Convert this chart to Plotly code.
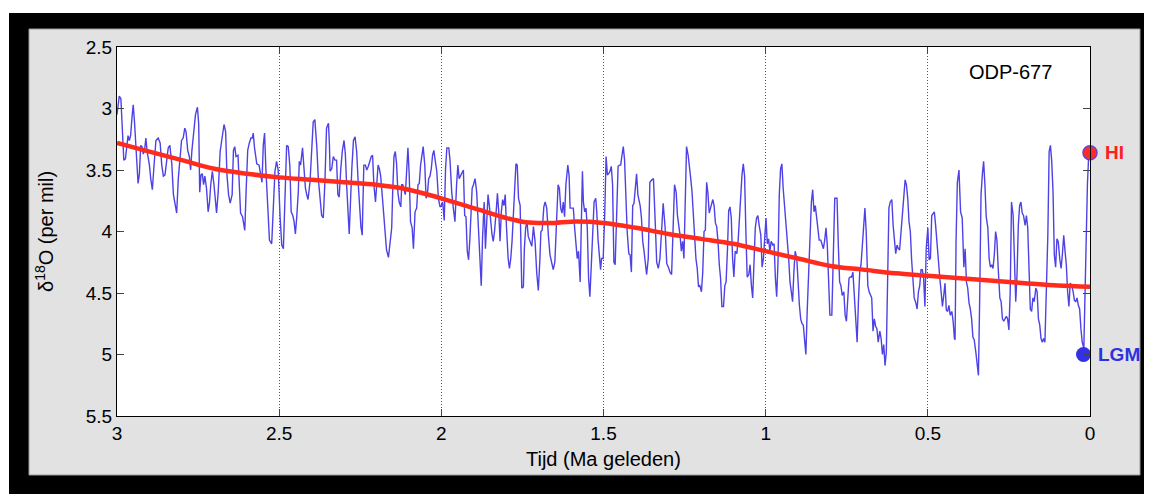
import plotly.graph_objects as go

# ---------------- data ----------------
# ODP-677 benthic d18O record, age in Ma (segments left -> right)
age_a = [3.000, 2.993, 2.988, 2.984, 2.979, 2.974, 2.970, 2.966, 2.962, 2.958, 2.954, 2.950, 2.946, 2.941, 2.935, 2.931, 2.927, 2.923, 2.919, 2.915,
         2.911, 2.907, 2.900, 2.896, 2.891, 2.886, 2.880, 2.873, 2.867, 2.862, 2.857, 2.852, 2.847, 2.842, 2.837, 2.831, 2.826, 2.820, 2.816, 2.811,
         2.806, 2.801, 2.796, 2.791, 2.787, 2.782, 2.777, 2.773, 2.769, 2.763, 2.758, 2.752, 2.748, 2.745, 2.741, 2.737, 2.733, 2.729, 2.724, 2.719,
         2.715, 2.711, 2.706, 2.701, 2.693, 2.688, 2.682, 2.676, 2.670, 2.665, 2.661, 2.656, 2.651, 2.645]
d18o_a = [3.05, 2.90, 2.92, 3.13, 3.42, 3.41, 3.32, 3.22, 3.26, 3.22, 3.08, 2.97, 3.11, 3.30, 3.61, 3.53, 3.30, 3.31, 3.37, 3.34,
          3.24, 3.35, 3.46, 3.57, 3.66, 3.47, 3.26, 3.24, 3.28, 3.46, 3.55, 3.54, 3.42, 3.32, 3.30, 3.45, 3.70, 3.81, 3.85, 3.57,
          3.39, 3.26, 3.24, 3.16, 3.19, 3.34, 3.39, 3.50, 3.34, 3.19, 3.05, 2.99, 3.13, 3.68, 3.54, 3.53, 3.62, 3.55, 3.65, 3.84,
          3.77, 3.62, 3.51, 3.62, 3.85, 3.68, 3.35, 3.24, 3.13, 3.19, 3.54, 3.70, 3.77, 3.70]

age_b = [2.641, 2.637, 2.633, 2.627, 2.623, 2.619, 2.613, 2.606, 2.602, 2.597, 2.592, 2.587, 2.583, 2.580, 2.576, 2.569, 2.562, 2.557, 2.553, 2.549,
         2.545, 2.541, 2.535, 2.530, 2.523, 2.518, 2.513, 2.508, 2.503, 2.497, 2.492, 2.487, 2.482, 2.477, 2.472, 2.467, 2.463, 2.458, 2.454, 2.450,
         2.446, 2.441, 2.438, 2.434, 2.428, 2.423, 2.419, 2.415, 2.411, 2.405, 2.400, 2.395, 2.390, 2.384, 2.379, 2.374, 2.369, 2.364, 2.359, 2.354,
         2.348, 2.345, 2.343, 2.338, 2.333, 2.328, 2.323, 2.319, 2.315, 2.310, 2.305, 2.300, 2.296, 2.292, 2.287, 2.284]
d18o_b = [3.34, 3.31, 3.39, 3.38, 3.62, 3.85, 3.88, 3.99, 3.68, 3.34, 3.28, 3.24, 3.24, 3.20, 3.32, 3.45, 3.46, 3.54, 3.60, 3.30,
          3.20, 3.49, 3.76, 4.07, 4.10, 3.79, 3.51, 3.43, 3.50, 3.89, 4.11, 4.14, 3.76, 3.30, 3.31, 3.47, 3.84, 3.87, 3.92, 4.02,
          3.89, 3.68, 3.43, 3.46, 3.32, 3.49, 3.65, 3.70, 3.74, 3.60, 3.32, 3.11, 3.09, 3.31, 3.58, 3.76, 3.87, 3.89, 3.60, 3.16,
          3.12, 3.30, 3.51, 3.49, 3.39, 3.42, 3.42, 3.70, 3.72, 3.49, 3.34, 3.26, 3.37, 3.62, 3.87, 4.02]

age_c = [2.276, 2.271, 2.266, 2.261, 2.256, 2.251, 2.248, 2.244, 2.239, 2.234, 2.230, 2.225, 2.220, 2.216, 2.212, 2.208, 2.203, 2.199, 2.195, 2.191,
         2.187, 2.183, 2.179, 2.174, 2.169, 2.163, 2.158, 2.153, 2.150, 2.146, 2.142, 2.138, 2.134, 2.130, 2.125, 2.122, 2.119, 2.115, 2.111, 2.107,
         2.103, 2.099, 2.095, 2.090, 2.086, 2.081, 2.076, 2.072, 2.068, 2.064, 2.060, 2.056, 2.051, 2.047, 2.043, 2.039, 2.035, 2.031, 2.027, 2.023,
         2.019, 2.014, 2.009, 2.004, 2.000, 1.996, 1.991, 1.987, 1.983, 1.977, 1.973, 1.968, 1.963, 1.958, 1.953, 1.949, 1.945, 1.940, 1.936, 1.932,
         1.928, 1.924, 1.920, 1.916, 1.912]
d18o_c = [3.49, 3.26, 3.23, 3.35, 3.62, 3.87, 3.96, 4.03, 3.46, 3.46, 3.50, 3.47, 3.42, 3.39, 3.38, 3.62, 3.76, 3.60, 3.46, 3.49,
          3.55, 3.68, 3.81, 4.03, 4.15, 4.21, 4.08, 3.97, 3.68, 3.39, 3.35, 3.45, 3.68, 3.76, 3.80, 3.62, 3.62, 3.66, 3.70, 3.51,
          3.32, 3.54, 3.92, 3.97, 4.14, 3.84, 3.81, 3.62, 3.61, 3.46, 3.37, 3.31, 3.46, 3.73, 3.70, 3.57, 3.55, 3.49, 3.38, 3.34,
          3.42, 3.51, 3.73, 3.80, 3.79, 3.76, 3.91, 3.49, 3.32, 3.32, 3.43, 3.68, 3.81, 3.92, 3.62, 3.46, 3.57, 3.54, 3.51, 3.50,
          3.87, 3.88, 4.16, 4.23, 4.06]

age_d = [1.905, 1.901, 1.896, 1.891, 1.886, 1.881, 1.877, 1.873, 1.868, 1.864, 1.860, 1.856, 1.852, 1.848, 1.844, 1.840, 1.836, 1.831, 1.827, 1.823,
         1.819, 1.815, 1.811, 1.807, 1.803, 1.799, 1.794, 1.790, 1.786, 1.782, 1.778, 1.774, 1.770, 1.766, 1.762, 1.757, 1.754, 1.752, 1.747, 1.744,
         1.740, 1.736, 1.732, 1.727, 1.721, 1.716, 1.711, 1.706, 1.701, 1.696, 1.693, 1.689, 1.684, 1.680, 1.675, 1.670, 1.665, 1.660, 1.655, 1.650,
         1.644, 1.640, 1.636, 1.632, 1.628, 1.624, 1.620, 1.616, 1.610, 1.606, 1.603, 1.598, 1.593, 1.589, 1.585, 1.581, 1.577, 1.572, 1.568, 1.565,
         1.562, 1.558, 1.554, 1.550, 1.546, 1.542]
d18o_d = [3.65, 3.62, 3.57, 3.68, 4.00, 4.25, 4.44, 4.06, 3.76, 4.14, 3.95, 3.70, 3.79, 3.95, 4.02, 4.08, 4.00, 3.84, 3.69, 3.84,
          4.08, 3.84, 3.74, 3.79, 3.70, 3.97, 4.22, 4.30, 4.22, 4.08, 3.84, 3.62, 3.45, 3.46, 3.73, 3.79, 4.16, 4.46, 4.45, 4.14,
          3.97, 3.92, 4.04, 4.07, 4.12, 3.96, 4.08, 4.33, 4.48, 4.22, 4.00, 3.99, 3.80, 3.76, 3.81, 4.03, 4.19, 4.25, 4.31, 4.25,
          3.81, 3.62, 3.65, 3.81, 3.85, 3.76, 3.88, 3.62, 3.46, 3.55, 3.81, 3.81, 3.81, 3.97, 4.08, 4.22, 4.16, 4.41, 3.89, 3.51,
          3.76, 3.84, 3.81, 3.97, 4.38, 4.53]

age_e = [1.533, 1.529, 1.524, 1.521, 1.517, 1.513, 1.509, 1.506, 1.501, 1.496, 1.492, 1.488, 1.484, 1.480, 1.476, 1.472, 1.468, 1.464, 1.459, 1.455,
         1.451, 1.447, 1.443, 1.439, 1.435, 1.431, 1.427, 1.422, 1.418, 1.414, 1.410, 1.406, 1.402, 1.398, 1.394, 1.387, 1.383, 1.379, 1.375, 1.371,
         1.367, 1.362, 1.357, 1.351, 1.346, 1.341, 1.336, 1.331, 1.326, 1.321, 1.316, 1.310, 1.305, 1.300, 1.295, 1.290, 1.285, 1.281, 1.276, 1.272,
         1.268, 1.264, 1.260, 1.256, 1.252, 1.248, 1.244, 1.239, 1.235, 1.231, 1.227, 1.223, 1.219, 1.215, 1.211, 1.207, 1.203, 1.198, 1.194, 1.190,
         1.186, 1.182, 1.178, 1.174, 1.170]
d18o_e = [4.00, 3.76, 3.73, 3.83, 4.06, 4.22, 4.31, 4.22, 4.22, 3.84, 3.39, 3.54, 3.53, 3.51, 3.47, 3.62, 4.25, 4.27, 3.88, 3.47,
          3.46, 3.46, 3.38, 3.31, 3.42, 3.70, 4.00, 4.18, 4.19, 4.33, 3.79, 3.77, 3.62, 3.53, 3.70, 3.79, 3.89, 4.08, 4.16, 4.27,
          4.35, 4.22, 3.60, 3.58, 3.57, 3.89, 4.25, 4.30, 4.22, 4.00, 3.77, 3.97, 4.26, 4.29, 4.33, 4.35, 4.02, 3.62, 3.68, 3.87,
          3.95, 4.03, 4.16, 4.08, 4.22, 3.79, 3.31, 3.38, 3.46, 3.57, 3.68, 3.87, 4.11, 4.22, 4.30, 4.45, 4.44, 4.49, 4.33, 4.00,
          3.99, 3.60, 3.69, 3.85, 3.81]

age_f = [1.163, 1.159, 1.155, 1.151, 1.147, 1.143, 1.139, 1.135, 1.130, 1.126, 1.122, 1.118, 1.114, 1.110, 1.106, 1.102, 1.098, 1.094, 1.089, 1.085,
         1.081, 1.077, 1.073, 1.069, 1.065, 1.061, 1.057, 1.052, 1.048, 1.044, 1.040, 1.036, 1.032, 1.028, 1.024, 1.020, 1.015, 1.011, 1.007, 1.003,
         0.999, 0.995, 0.991, 0.987, 0.983, 0.978, 0.974, 0.970, 0.966, 0.962, 0.958, 0.954, 0.950, 0.946, 0.941, 0.937, 0.933, 0.929, 0.925, 0.921,
         0.917, 0.913, 0.909, 0.904, 0.900, 0.896, 0.892, 0.888, 0.884, 0.880, 0.876, 0.872, 0.867, 0.863, 0.859, 0.855, 0.851, 0.847, 0.843, 0.839,
         0.835, 0.830, 0.826, 0.822, 0.818, 0.814, 0.810, 0.806, 0.802, 0.796, 0.791, 0.787]
d18o_f = [3.74, 3.79, 3.93, 3.96, 4.08, 4.27, 4.38, 4.61, 4.61, 4.44, 4.41, 4.16, 3.83, 3.80, 3.89, 4.22, 4.37, 4.16, 4.18, 4.08,
          3.89, 3.70, 3.54, 3.45, 3.55, 4.00, 4.37, 4.35, 4.27, 4.44, 4.54, 4.25, 3.97, 3.89, 3.87, 3.95, 4.03, 4.29, 4.22, 4.06,
          3.89, 4.10, 4.06, 4.16, 4.08, 4.11, 4.10, 4.38, 4.53, 4.25, 3.70, 3.49, 3.45, 3.65, 3.81, 3.97, 4.11, 4.22, 4.41, 4.52,
          4.57, 4.33, 4.16, 4.22, 4.44, 4.60, 4.71, 4.75, 4.76, 4.87, 5.00, 4.65, 4.25, 3.95, 3.76, 3.66, 3.84, 3.79, 3.89, 3.95,
          4.07, 4.07, 4.11, 4.14, 4.07, 3.97, 4.11, 4.41, 4.68, 4.68, 4.22, 3.73]

age_g = [0.784, 0.780, 0.776, 0.772, 0.768, 0.764, 0.759, 0.755, 0.751, 0.747, 0.743, 0.739, 0.735, 0.731, 0.727, 0.722, 0.718, 0.714, 0.710, 0.706,
         0.702, 0.698, 0.694, 0.690, 0.685, 0.681, 0.677, 0.673, 0.669, 0.665, 0.661, 0.657, 0.653, 0.648, 0.644, 0.640, 0.636, 0.632, 0.628, 0.624,
         0.620, 0.616, 0.611, 0.607, 0.603, 0.599, 0.595, 0.591, 0.587, 0.583, 0.579, 0.574, 0.570, 0.566, 0.562, 0.558, 0.554, 0.550, 0.546, 0.542,
         0.537, 0.533, 0.529, 0.525, 0.521, 0.517, 0.513, 0.509, 0.505, 0.500, 0.496, 0.492, 0.488, 0.484, 0.480, 0.476, 0.472, 0.468, 0.463, 0.459,
         0.455, 0.451, 0.447, 0.443, 0.439, 0.435, 0.431, 0.426, 0.422, 0.418]
d18o_g = [3.73, 3.73, 4.11, 4.41, 4.44, 4.52, 4.49, 4.68, 4.73, 4.57, 4.38, 4.37, 4.37, 4.33, 4.54, 4.76, 4.90, 4.57, 4.33, 4.27,
          4.14, 4.00, 3.81, 4.00, 4.44, 4.49, 4.52, 4.54, 4.81, 4.71, 4.77, 4.79, 4.90, 4.81, 4.87, 5.00, 4.92, 5.09, 4.98, 4.49,
          3.81, 3.76, 3.74, 3.95, 4.06, 4.18, 4.11, 4.14, 4.15, 4.03, 3.89, 3.70, 3.58, 3.62, 3.73, 3.92, 4.00, 4.23, 4.44, 4.54,
          4.58, 4.63, 4.49, 4.44, 4.31, 4.31, 4.38, 4.61, 4.14, 3.97, 4.23, 4.22, 3.87, 3.85, 3.84, 3.95, 4.11, 4.25, 4.38, 4.49,
          4.61, 4.52, 4.42, 4.64, 4.65, 4.60, 4.68, 4.65, 4.73, 4.87]

age_h = [0.416, 0.413, 0.409, 0.404, 0.399, 0.394, 0.389, 0.385, 0.381, 0.377, 0.373, 0.369, 0.365, 0.361, 0.357, 0.352, 0.348, 0.344, 0.340, 0.336,
         0.332, 0.328, 0.324, 0.320, 0.315, 0.311, 0.307, 0.303, 0.299, 0.295, 0.291, 0.287, 0.283, 0.278, 0.274, 0.270, 0.266, 0.262, 0.258, 0.254,
         0.250, 0.246, 0.242, 0.237, 0.233, 0.229, 0.225, 0.221, 0.217, 0.213, 0.209, 0.205, 0.200, 0.196, 0.192, 0.188, 0.184, 0.180, 0.176, 0.172,
         0.167, 0.163, 0.159, 0.155, 0.151, 0.147, 0.143, 0.139, 0.135, 0.130, 0.126, 0.122, 0.118, 0.114, 0.110, 0.106, 0.102, 0.098, 0.093, 0.089,
         0.085, 0.081, 0.077, 0.073, 0.069, 0.065, 0.061, 0.056, 0.052, 0.048, 0.044, 0.040, 0.036, 0.032, 0.028, 0.024, 0.019, 0.016, 0.012, 0.008,
         0.004, 0.000]
d18o_h = [4.88, 4.08, 3.60, 3.50, 3.84, 3.89, 4.29, 4.14, 4.41, 4.46, 4.58, 4.63, 4.71, 4.86, 4.88, 4.98, 5.09, 5.17, 4.52, 3.70,
          3.54, 3.43, 3.62, 3.88, 3.97, 4.22, 4.29, 4.27, 4.30, 4.19, 4.00, 4.07, 4.30, 4.54, 4.57, 4.71, 4.73, 4.71, 4.69, 4.71,
          4.80, 4.49, 3.76, 3.87, 4.33, 4.57, 4.35, 3.95, 3.79, 3.76, 3.85, 3.87, 3.95, 3.87, 3.97, 4.33, 4.63, 4.65, 4.54, 4.57,
          4.46, 4.49, 4.71, 4.76, 4.87, 4.90, 4.87, 4.90, 4.54, 4.03, 3.35, 3.30, 3.43, 3.68, 4.19, 4.29, 4.06, 4.08, 4.23, 4.30,
          4.18, 4.03, 4.16, 4.27, 4.49, 4.61, 4.42, 4.44, 4.49, 4.56, 4.57, 4.54, 4.60, 4.63, 4.79, 4.90, 4.95, 4.54, 3.92, 3.62,
          3.38, 3.35]

# smoothed long-term trend (red)
trend_age = [3.0, 2.9, 2.8, 2.7, 2.6, 2.5, 2.4, 2.3, 2.2, 2.1, 2.0, 1.9, 1.8, 1.75, 1.7, 1.65, 1.6, 1.5, 1.4,
             1.3, 1.2, 1.1, 1.0, 0.9, 0.8, 0.7, 0.6, 0.5, 0.4, 0.3, 0.2, 0.1, 0.0]
trend_d18o = [3.28, 3.35, 3.42, 3.49, 3.53, 3.56, 3.58, 3.60, 3.62, 3.66, 3.73, 3.81, 3.89, 3.92, 3.93, 3.93, 3.92, 3.93, 3.97,
              4.02, 4.06, 4.10, 4.16, 4.22, 4.28, 4.31, 4.34, 4.36, 4.38, 4.40, 4.42, 4.44, 4.45]

# labelled points
hi_age, hi_d18o = [0.0], [3.36]
lgm_age, lgm_d18o = [0.02], [5.0]

x_ticks = [3, 2.5, 2, 1.5, 1, 0.5, 0]
x_ticktext = ["3", "2.5", "2", "1.5", "1", "0.5", "0"]
y_ticks = [2.5, 3, 3.5, 4, 4.5, 5, 5.5]
y_ticktext = ["2.5", "3", "3.5", "4", "4.5", "5", "5.5"]

segments = [(age_a, d18o_a), (age_b, d18o_b), (age_c, d18o_c), (age_d, d18o_d),
            (age_e, d18o_e), (age_f, d18o_f), (age_g, d18o_g), (age_h, d18o_h)]
for a, d in segments:
    assert len(a) == len(d), (len(a), len(d))
blue_age = [v for a, _ in segments for v in a]
blue_d18o = [v for _, d in segments for v in d]

# ---------------- figure ----------------
FONT = "Liberation Sans, Arial, Helvetica, sans-serif"
OFF = 8                      # default page body margin in the browser
WIN_W, WIN_H = 1152, 494
W, H = WIN_W - OFF, WIN_H - OFF
# plot area in window pixels: x 117..1090, y 47..416
ML, MR, MT, MB = 117 - OFF, WIN_W - 1090, 47 - OFF, WIN_H - 416
PW, PH = W - ML - MR, H - MT - MB


def px(x):   # window pixel -> paper x
    return (x - OFF - ML) / PW


def py(y):   # window pixel -> paper y
    return (OFF + H - MB - y) / PH


fig = go.Figure()
fig.add_trace(go.Scatter(x=blue_age, y=blue_d18o, mode="lines",
                         line=dict(color="rgb(78,66,230)", width=1.4),
                         hoverinfo="skip", showlegend=False))
fig.add_trace(go.Scatter(x=trend_age, y=trend_d18o, mode="lines",
                         line=dict(color="#ff2b1c", width=4.5, shape="spline"),
                         hoverinfo="skip", showlegend=False))
fig.add_trace(go.Scatter(x=hi_age, y=hi_d18o, mode="markers", cliponaxis=False,
                         marker=dict(size=14, color="#ff2b2b", line=dict(color="#7040c8", width=1.5)),
                         showlegend=False))
fig.add_trace(go.Scatter(x=lgm_age, y=lgm_d18o, mode="markers", cliponaxis=False,
                         marker=dict(size=15, color="#3232e4", line=dict(width=0)),
                         showlegend=False))

shapes = [
    dict(type="rect", xref="paper", yref="paper", x0=px(9), x1=px(WIN_W + 5), y0=py(WIN_H + 5), y1=py(13),
         fillcolor="black", line=dict(width=0), layer="below"),
    dict(type="rect", xref="paper", yref="paper", x0=px(29), x1=px(1140), y0=py(475), y1=py(29),
         fillcolor="#e2e2e2", line=dict(color="#9a9a9a", width=1), layer="below"),
    dict(type="rect", xref="paper", yref="paper", x0=0, x1=1, y0=0, y1=1,
         fillcolor="white", line=dict(width=0), layer="below"),
]

annotations = [
    dict(text="ODP-677", xref="paper", yref="paper", x=px(1010), y=py(72), showarrow=False,
         font=dict(family=FONT, size=20, color="black"), xanchor="center", yanchor="middle"),
    dict(text="<b>HI</b>", xref="x", yref="y", x=hi_age[0], y=hi_d18o[0], xshift=13, showarrow=False,
         font=dict(family=FONT, size=19, color="#ff2020"), xanchor="left", yanchor="middle"),
    dict(text="<b>LGM</b>", xref="x", yref="y", x=lgm_age[0], y=lgm_d18o[0], xshift=12, showarrow=False,
         font=dict(family=FONT, size=19, color="#3030e0"), xanchor="left", yanchor="middle"),
    dict(text="Tijd (Ma geleden)", xref="paper", yref="paper", x=px(603), y=py(459), showarrow=False,
         font=dict(family=FONT, size=20, color="black"), xanchor="center", yanchor="middle"),
    dict(text="δ<sup>18</sup>O (per mil)", xref="paper", yref="paper", x=px(45), y=py(232), showarrow=False,
         textangle=-90, font=dict(family=FONT, size=20, color="black"), xanchor="center", yanchor="middle"),
]

axis_common = dict(showline=True, linecolor="black", linewidth=1.3, mirror="ticks",
                   ticks="inside", ticklen=7, tickwidth=1, tickcolor="#444",
                   zeroline=False, tickfont=dict(family=FONT, size=19, color="black"))

fig.update_layout(
    width=W, height=H, autosize=False,
    margin=dict(l=ML, r=MR, t=MT, b=MB, pad=0),
    paper_bgcolor="white", plot_bgcolor="white",
    shapes=shapes, annotations=annotations,
    xaxis=dict(range=[3, 0], tickmode="array", tickvals=x_ticks, ticktext=x_ticktext,
               showgrid=True, gridcolor="#555555", gridwidth=1, griddash="1px,2px",
               ticklabelstandoff=0, **axis_common),
    yaxis=dict(range=[5.5, 2.5], tickmode="array", tickvals=y_ticks, ticktext=y_ticktext,
               showgrid=False, **axis_common),
    font=dict(family=FONT, color="black"),
)

fig.write_html("out.html")
